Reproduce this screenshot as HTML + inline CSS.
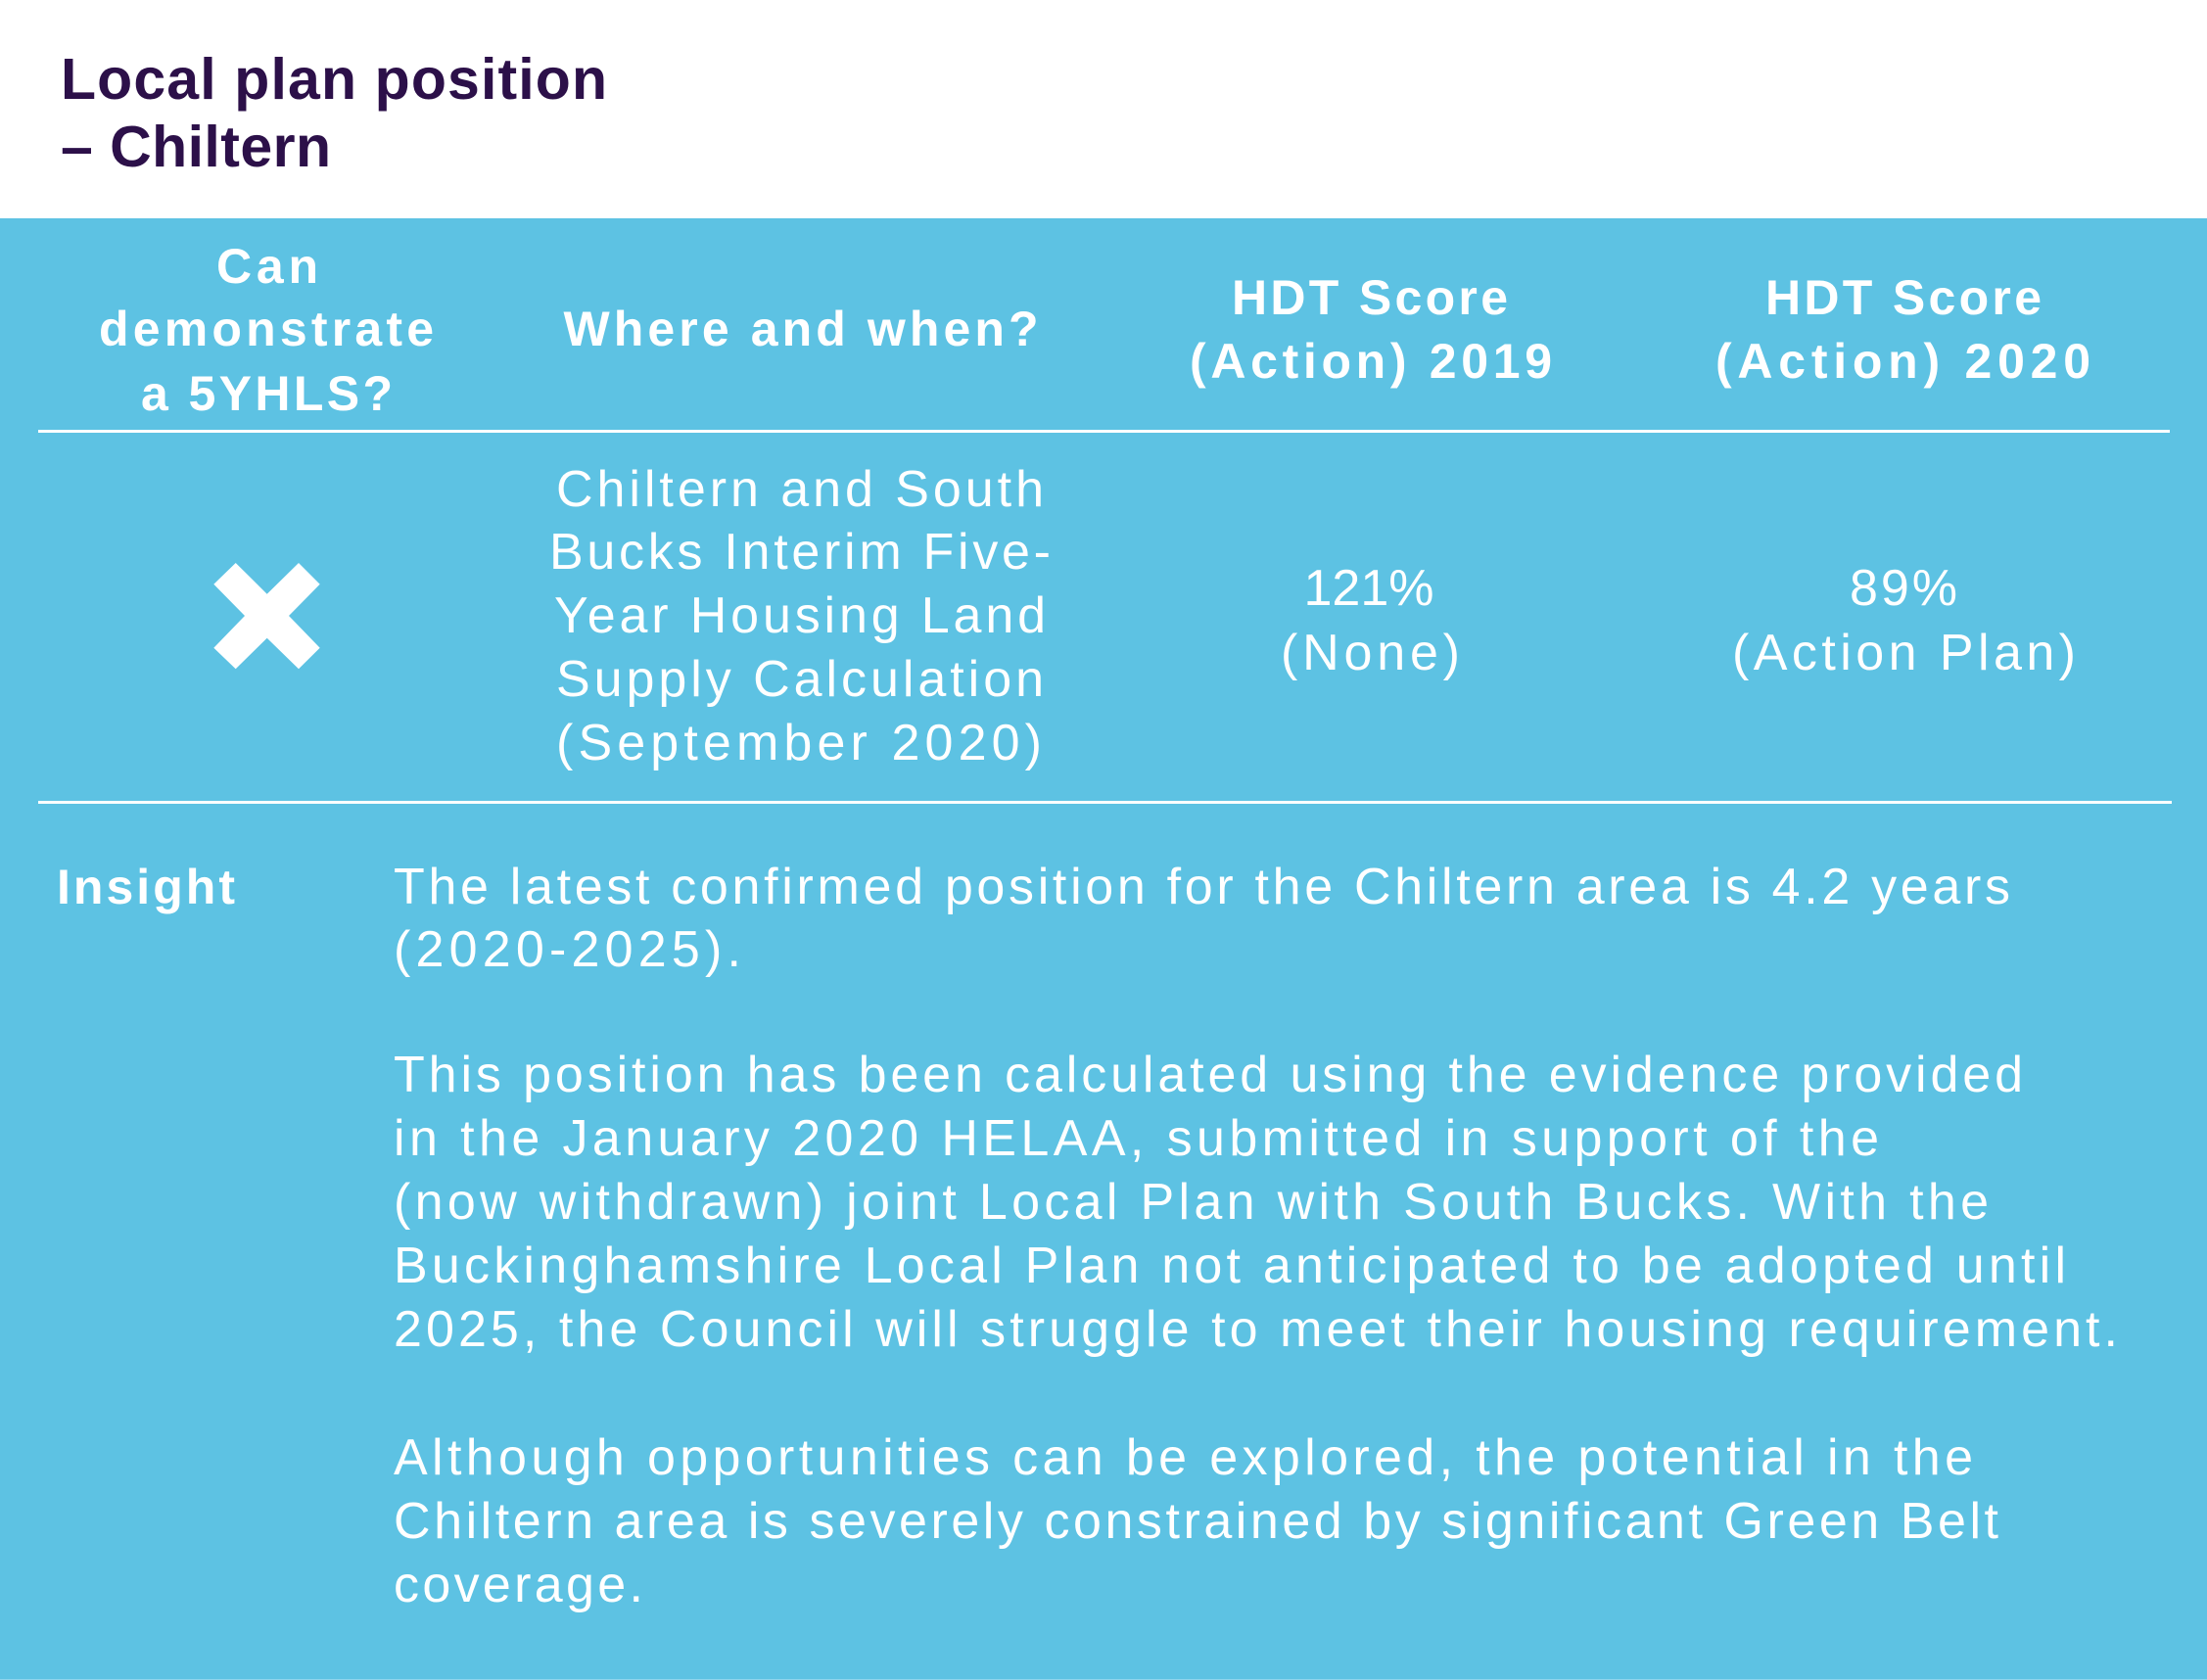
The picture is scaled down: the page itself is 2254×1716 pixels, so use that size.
<!DOCTYPE html>
<html>
<head>
<meta charset="utf-8">
<style>
  html,body{margin:0;padding:0;background:#ffffff;}
  svg{display:block;}
  .t{font-family:"Liberation Sans",sans-serif;}
</style>
</head>
<body>
<svg width="2254" height="1716" viewBox="0 0 2254 1716" xmlns="http://www.w3.org/2000/svg">
  <rect x="0" y="0" width="2254" height="1716" fill="#ffffff"/>
  <!-- Title -->
  <g class="t" font-weight="bold" font-size="59" fill="#2C1049">
    <text x="62" y="101" textLength="558" lengthAdjust="spacing">Local plan position</text>
    <text x="62" y="170" textLength="276" lengthAdjust="spacing">– Chiltern</text>
  </g>
  <!-- Blue panel -->
  <rect x="0" y="223" width="2254" height="1492" fill="#5DC2E3"/>
  <rect x="0" y="1715" width="2254" height="1" fill="#8fd4ec"/>

  <!-- Header row -->
  <g class="t" font-weight="bold" font-size="50" fill="#ffffff" text-anchor="middle">
    <text x="273" y="289" textLength="104" lengthAdjust="spacing">Can</text>
    <text x="272" y="353" textLength="342" lengthAdjust="spacing">demonstrate</text>
    <text x="272.5" y="419" textLength="257" lengthAdjust="spacing">a 5YHLS?</text>
    <text x="818" y="353" textLength="485" lengthAdjust="spacing">Where and when?</text>
    <text x="1399" y="321" textLength="282" lengthAdjust="spacing">HDT Score</text>
    <text x="1400" y="386" textLength="370" lengthAdjust="spacing">(Action) 2019</text>
    <text x="1944" y="321" textLength="282" lengthAdjust="spacing">HDT Score</text>
    <text x="1943.5" y="386" textLength="383" lengthAdjust="spacing">(Action) 2020</text>
  </g>
  <rect x="39" y="439" width="2177" height="3" fill="#ffffff"/>

  <!-- Data row -->
  <polygon fill="#ffffff" points="240.7,575 272.7,606.7 305,575 326.7,596.7 295,629 326.7,661.7 305,683.3 272.7,651.7 240.7,683.3 218.3,661.7 250,629 218.3,596.7"/>
  <g class="t" font-size="52" fill="#ffffff" text-anchor="middle">
    <text x="817" y="517" textLength="498" lengthAdjust="spacing">Chiltern and South</text>
    <text x="817" y="581" textLength="512" lengthAdjust="spacing">Bucks Interim Five-</text>
    <text x="817" y="646" textLength="502" lengthAdjust="spacing">Year Housing Land</text>
    <text x="817" y="711" textLength="498" lengthAdjust="spacing">Supply Calculation</text>
    <text x="816" y="776" textLength="496" lengthAdjust="spacing">(September 2020)</text>
    <text x="1398" y="618">121%</text>
    <text x="1399.5" y="684" textLength="183" lengthAdjust="spacing">(None)</text>
    <text x="1944" y="618" textLength="110" lengthAdjust="spacing">89%</text>
    <text x="1944.5" y="684" textLength="351" lengthAdjust="spacing">(Action Plan)</text>
  </g>
  <rect x="39" y="818" width="2179" height="3" fill="#ffffff"/>

  <!-- Insight -->
  <g class="t" fill="#ffffff">
    <text x="58" y="923" font-weight="bold" font-size="50" textLength="182" lengthAdjust="spacing">Insight</text>
    <g font-size="52">
      <text x="402" y="923" textLength="1651" lengthAdjust="spacing">The latest confirmed position for the Chiltern area is 4.2 years</text>
      <text x="402" y="987" textLength="355" lengthAdjust="spacing">(2020-2025).</text>
      <text x="402" y="1115" textLength="1664" lengthAdjust="spacing">This position has been calculated using the evidence provided</text>
      <text x="402" y="1180" textLength="1517" lengthAdjust="spacing">in the January 2020 HELAA, submitted in support of the</text>
      <text x="402" y="1245" textLength="1629" lengthAdjust="spacing">(now withdrawn) joint Local Plan with South Bucks. With the</text>
      <text x="402" y="1310" textLength="1708" lengthAdjust="spacing">Buckinghamshire Local Plan not anticipated to be adopted until</text>
      <text x="402" y="1375" textLength="1761" lengthAdjust="spacing">2025, the Council will struggle to meet their housing requirement.</text>
      <text x="402" y="1506" textLength="1613" lengthAdjust="spacing">Although opportunities can be explored, the potential in the</text>
      <text x="402" y="1571" textLength="1639" lengthAdjust="spacing">Chiltern area is severely constrained by significant Green Belt</text>
      <text x="402" y="1636" textLength="255" lengthAdjust="spacing">coverage.</text>
    </g>
  </g>
</svg>
</body>
</html>
